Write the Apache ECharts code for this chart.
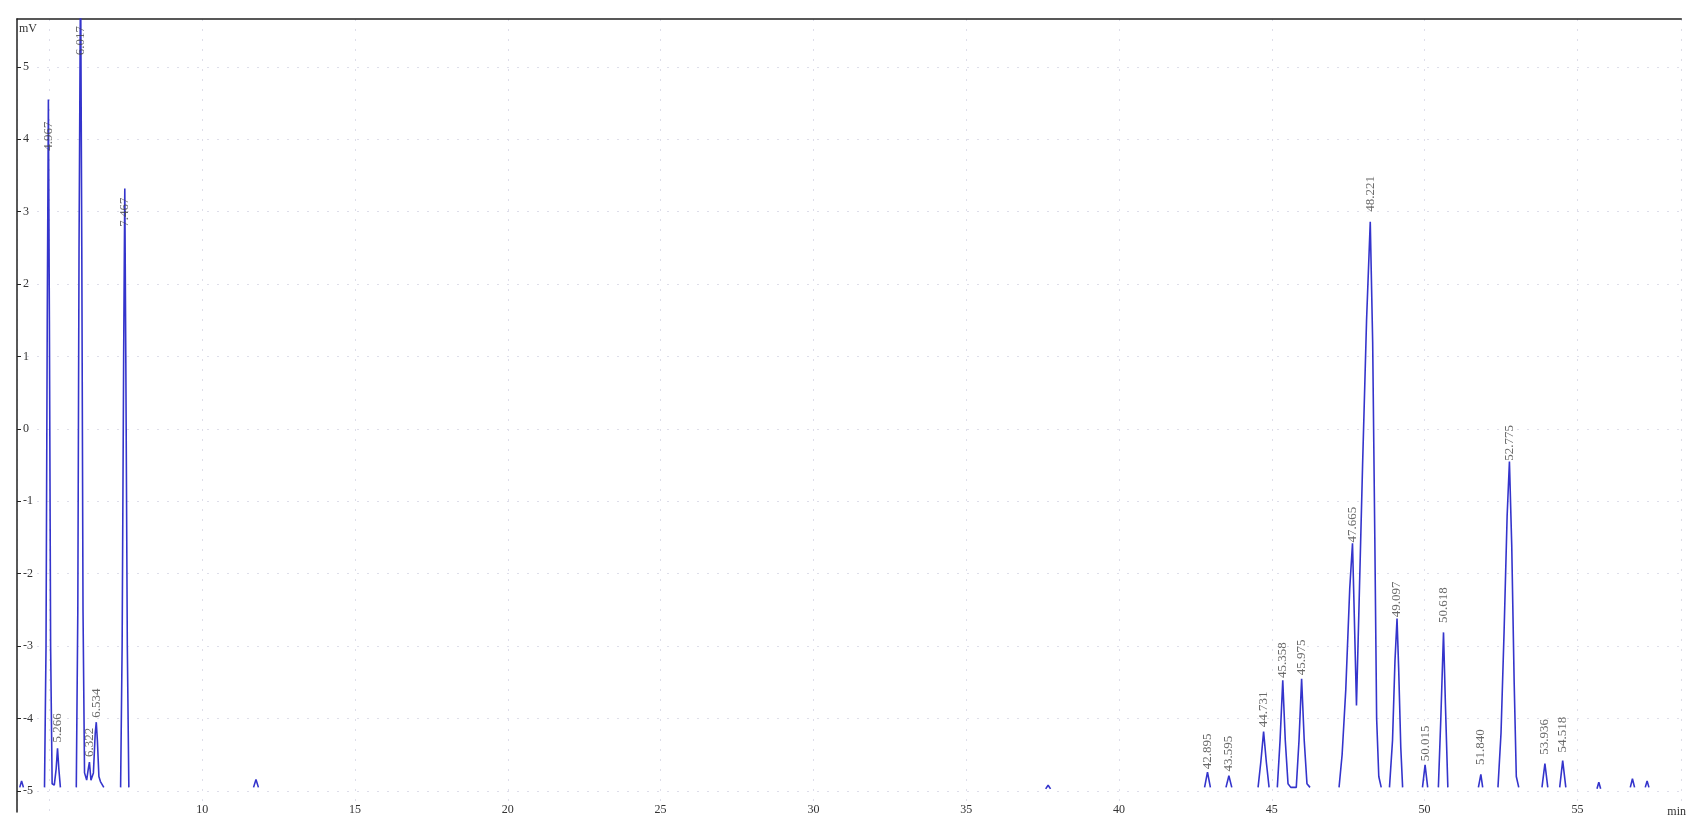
<!DOCTYPE html>
<html>
<head>
<meta charset="utf-8">
<script src="https://cdn.jsdelivr.net/npm/echarts@6/dist/echarts.min.js"></script>
<style>
  html, body { margin: 0; padding: 0; background: #fff; }
  #chart { width: 1689px; height: 818px; }
</style>
</head>
<body>
<div id="chart"></div>
<script>
// trace: retention time (min) and signal (mV), null = gap in trace
const traceTime = [
  4.03, 4.09, 4.15, null,
  4.84, 4.89, 4.93, 4.967, 5.0, 5.04, 5.09, 5.16, 5.22, 5.266, 5.31, 5.36, null,
  5.88, 5.93, 5.97, 6.02, 6.06, 6.1, 6.15, 6.22, 6.27, 6.31, 6.36, 6.44, 6.5, 6.534, 6.57, 6.62, 6.67, 6.72, 6.78, null,
  7.33, 7.38, 7.43, 7.467, 7.5, 7.55, 7.6, null,
  11.68, 11.76, 11.84, null,
  37.6, 37.68, 37.76, null,
  42.8, 42.895, 42.99, null,
  43.5, 43.595, 43.69, null,
  44.55, 44.64, 44.731, 44.82, 44.91, null,
  45.18, 45.27, 45.358, 45.44, 45.53, 45.62, 45.8, 45.89, 45.975, 46.06, 46.15, 46.25, null,
  47.2, 47.3, 47.42, 47.55, 47.64, 47.7, 47.77, 47.85, 47.97, 48.1, 48.221, 48.3, 48.37, 48.43, 48.5, 48.58, null,
  48.85, 48.95, 49.03, 49.097, 49.15, 49.22, 49.28, null,
  49.93, 50.015, 50.1, null,
  50.45, 50.53, 50.618, 50.68, 50.76, null,
  51.76, 51.84, 51.9, null,
  52.4, 52.5, 52.6, 52.7, 52.775, 52.85, 52.93, 53.0, 53.08, null,
  53.84, 53.936, 54.03, null,
  54.42, 54.518, 54.62, null,
  55.64, 55.7, 55.76, null,
  56.73, 56.8, 56.87, null,
  57.22, 57.28, 57.34
];
const traceMv = [
  -4.95, -4.86, -4.95, null,
  -4.95, -3.0, 1.5, 4.55, 1.5, -3.0, -4.9, -4.92, -4.7, -4.41, -4.7, -4.95, null,
  -4.95, -2.5, 2.5, 6.4, 2.5, -2.5, -4.75, -4.85, -4.7, -4.6, -4.85, -4.75, -4.2, -4.05, -4.3, -4.8, -4.87, -4.85, -4.95, null,
  -4.95, -3.0, 1.0, 3.32, 1.0, -3.0, -4.95, null,
  -4.95, -4.84, -4.95, null,
  -4.97, -4.92, -4.97, null,
  -4.95, -4.74, -4.95, null,
  -4.95, -4.79, -4.95, null,
  -4.95, -4.6, -4.18, -4.6, -4.95, null,
  -4.95, -4.3, -3.47, -4.3, -4.9, -4.95, -4.95, -4.3, -3.45, -4.3, -4.9, -4.95, null,
  -4.95, -4.5, -3.6, -2.2, -1.58, -2.6, -3.82, -2.5, -0.5, 1.5, 2.86, 1.2, -1.5, -4.0, -4.8, -4.95, null,
  -4.95, -4.3, -3.2, -2.62, -3.3, -4.4, -4.95, null,
  -4.95, -4.64, -4.95, null,
  -4.95, -4.0, -2.81, -3.8, -4.95, null,
  -4.95, -4.77, -4.95, null,
  -4.95, -4.2, -2.8, -1.2, -0.45, -1.6, -3.5, -4.8, -4.95, null,
  -4.95, -4.62, -4.95, null,
  -4.95, -4.58, -4.95, null,
  -4.97, -4.88, -4.97, null,
  -4.95, -4.83, -4.95, null,
  -4.95, -4.86, -4.95
];

// peak annotations: retention time, label text, mV where the text starts
const peakTime = [4.967, 5.266, 6.017, 6.3, 6.534, 7.467, 42.895, 43.595, 44.731, 45.358, 45.975,
  47.64, 48.221, 49.097, 50.015, 50.618, 51.84, 52.775, 53.936, 54.518];
const peakName = ['4.967', '5.266', '6.017', '6.322', '6.534', '7.467', '42.895', '43.595', '44.731', '45.358', '45.975',
  '47.665', '48.221', '49.097', '50.015', '50.618', '51.840', '52.775', '53.936', '54.518'];
const labelMv = [3.84, -4.33, 5.16, -4.53, -3.99, 2.79, -4.70, -4.73, -4.12, -3.44, -3.40,
  -1.57, 3.0, -2.60, -4.59, -2.68, -4.64, -0.44, -4.50, -4.47];

// tick labels
const timeTicks = [10, 15, 20, 25, 30, 35, 40, 45, 50, 55];
const mvTicks = [-5, -4, -3, -2, -1, 0, 1, 2, 3, 4, 5];

const serif = '"Liberation Serif", "DejaVu Serif", serif';
const gridDots = { type: [2, 8], color: '#dedeea', width: 1 };

const chart = echarts.init(document.getElementById('chart'));

const trace = traceTime.map((t, i) => (t === null ? ['-', '-'] : [t, traceMv[i]]));
const peaks = peakTime.map((t, i) => ({ name: peakName[i], value: [t, labelMv[i]] }));

chart.setOption({
  animation: false,
  backgroundColor: '#fff',
  grid: { left: 17, right: 0, top: 19, bottom: 0 },
  xAxis: [
    {
      type: 'value',
      min: 3.94,
      max: 58.4,
      splitNumber: 11,
      name: 'min',
      nameLocation: 'end',
      nameGap: -14,
      nameTextStyle: { fontFamily: serif, fontSize: 12, color: '#333', verticalAlign: 'middle', padding: [0, 0, 6, 0] },
      axisLine: { show: false, onZero: false },
      axisTick: { show: false },
      axisLabel: {
        inside: true,
        margin: -4,
        fontFamily: serif,
        fontSize: 12,
        color: '#333',
        customValues: timeTicks
      },
      splitLine: { show: true, lineStyle: gridDots }
    },
    {
      // top frame line
      type: 'value',
      position: 'top',
      min: 3.94,
      max: 58.4,
      axisLine: { show: true, onZero: false, lineStyle: { color: '#222', width: 1.5 } },
      axisTick: { show: false },
      axisLabel: { show: false },
      splitLine: { show: false }
    }
  ],
  yAxis: {
    type: 'value',
    min: -5.29,
    max: 5.66,
    splitNumber: 10,
    name: 'mV',
    nameLocation: 'end',
    nameGap: -16,
    nameTextStyle: { fontFamily: serif, fontSize: 12, color: '#333', align: 'left', padding: [0, 0, 0, 2] },
    axisLine: { show: true, onZero: false, lineStyle: { color: '#222', width: 1.5 } },
    axisTick: { show: true, inside: true, length: 4, lineStyle: { color: '#222' }, customValues: mvTicks },
    axisLabel: {
      inside: true,
      margin: 6,
      fontFamily: serif,
      fontSize: 12,
      color: '#333',
      customValues: mvTicks
    },
    splitLine: { show: true, lineStyle: gridDots }
  },
  series: [
    {
      type: 'line',
      data: trace,
      showSymbol: false,
      connectNulls: false,
      lineStyle: { color: '#3434cc', width: 1.6 },
      z: 3
    },
    {
      type: 'scatter',
      data: peaks,
      symbolSize: 0,
      label: {
        show: true,
        formatter: p => p.name,
        position: 'top',
        distance: 0,
        rotate: 90,
        align: 'left',
        verticalAlign: 'middle',
        fontFamily: serif,
        fontSize: 13,
        color: '#444'
      },
      z: 4
    }
  ]
});
</script>
</body>
</html>
